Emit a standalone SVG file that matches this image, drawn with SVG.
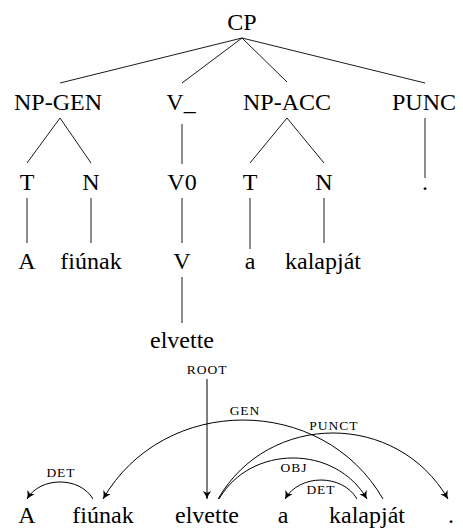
<svg xmlns="http://www.w3.org/2000/svg" width="463" height="528" viewBox="0 0 463 528">
  <style>
    text { font-family: "Liberation Serif", "DejaVu Serif", serif; fill: #000; text-anchor: middle; }
    .t { font-size: 24px; }
    .lab { font-size: 13.5px; letter-spacing: 1px; }
    .edge { stroke: #000; stroke-width: 0.9; fill: none; }
    .arc { stroke: #000; stroke-width: 1; fill: none; marker-end: url(#tip); }
  </style>
  <defs>
    <marker id="tip" markerUnits="userSpaceOnUse" viewBox="-10 -6 12 12" refX="0" refY="0" markerWidth="12" markerHeight="12" orient="auto">
      <path d="M0,0 Q-4,-1.2 -8,-4.2 L-6,0 L-8,4.2 Q-4,1.2 0,0 Z" fill="#000"/>
    </marker>
  </defs>

  <rect width="463" height="528" fill="#fff"/>

  <!-- constituency tree: branches -->
  <g id="tree-edges">
    <line class="edge" x1="242" y1="38" x2="60" y2="83"/>
    <line class="edge" x1="242" y1="38" x2="182" y2="83"/>
    <line class="edge" x1="242" y1="38" x2="287" y2="82"/>
    <line class="edge" x1="242" y1="38" x2="425" y2="83"/>
    <line class="edge" x1="60" y1="118" x2="27" y2="163"/>
    <line class="edge" x1="60" y1="118" x2="91" y2="163"/>
    <line class="edge" x1="182" y1="124" x2="182" y2="164"/>
    <line class="edge" x1="287" y1="118" x2="250" y2="163"/>
    <line class="edge" x1="287" y1="118" x2="324" y2="163"/>
    <line class="edge" x1="425" y1="118" x2="425" y2="178"/>
    <line class="edge" x1="27" y1="198" x2="27" y2="243"/>
    <line class="edge" x1="91" y1="198" x2="91" y2="243"/>
    <line class="edge" x1="182" y1="198" x2="182" y2="243"/>
    <line class="edge" x1="250" y1="198" x2="250" y2="249"/>
    <line class="edge" x1="324" y1="198" x2="324" y2="243"/>
    <line class="edge" x1="182" y1="277" x2="182" y2="323"/>
  </g>

  <!-- constituency tree: nodes -->
  <g id="cp"><text class="t" x="242" y="30">CP</text></g>
  <g id="np-gen"><text class="t" x="58" y="110">NP-GEN</text></g>
  <g id="v-bar"><text class="t" x="181" y="110">V_</text></g>
  <g id="np-acc"><text class="t" x="287" y="110">NP-ACC</text></g>
  <g id="punc"><text class="t" x="424" y="110">PUNC</text></g>
  <g id="t1"><text class="t" x="27" y="190">T</text></g>
  <g id="n1"><text class="t" x="91" y="190">N</text></g>
  <g id="v0"><text class="t" x="182" y="190">V0</text></g>
  <g id="t2"><text class="t" x="250" y="190">T</text></g>
  <g id="n2"><text class="t" x="324" y="190">N</text></g>
  <g id="dot-leaf"><text class="t" x="425" y="190">.</text></g>
  <g id="w-a1"><text class="t" x="27" y="269">A</text></g>
  <g id="w-fiunak"><text class="t" x="91" y="269">fiúnak</text></g>
  <g id="v"><text class="t" x="182" y="269">V</text></g>
  <g id="w-a2"><text class="t" x="250" y="269">a</text></g>
  <g id="w-kalapjat"><text class="t" x="323" y="269">kalapját</text></g>
  <g id="w-elvette"><text class="t" x="182" y="348">elvette</text></g>

  <!-- dependency graph: arcs -->
  <g id="dep-arcs">
    <line class="arc" x1="207" y1="379" x2="207" y2="499"/>
    <path class="arc" d="M93,499 C79.9,476.3 40.1,476.3 27,499"/>
    <path class="arc" d="M383,499 C322.2,393.7 163.8,393.7 103,499"/>
    <path class="arc" d="M218,499 C268.8,411 397.2,411 448,499"/>
    <path class="arc" d="M219,499 C250.6,444.3 335.4,444.3 367,499"/>
    <path class="arc" d="M357,499 C342.4,473.7 299.6,473.7 285,499"/>
  </g>

  <!-- dependency graph: arc labels -->
  <g id="dep-labels">
    <text class="lab" x="207" y="374">ROOT</text>
    <text class="lab" x="245" y="415">GEN</text>
    <text class="lab" x="334" y="430">PUNCT</text>
    <text class="lab" x="294" y="472">OBJ</text>
    <text class="lab" x="61" y="477">DET</text>
    <text class="lab" x="321" y="494">DET</text>
  </g>

  <!-- dependency graph: words -->
  <g id="d-a1"><text class="t" x="27" y="523">A</text></g>
  <g id="d-fiunak"><text class="t" x="103" y="523">fiúnak</text></g>
  <g id="d-elvette"><text class="t" x="207" y="523">elvette</text></g>
  <g id="d-a2"><text class="t" x="283" y="523">a</text></g>
  <g id="d-kalapjat"><text class="t" x="367" y="523">kalapját</text></g>
  <g id="d-dot"><text class="t" x="451" y="523">.</text></g>
</svg>
